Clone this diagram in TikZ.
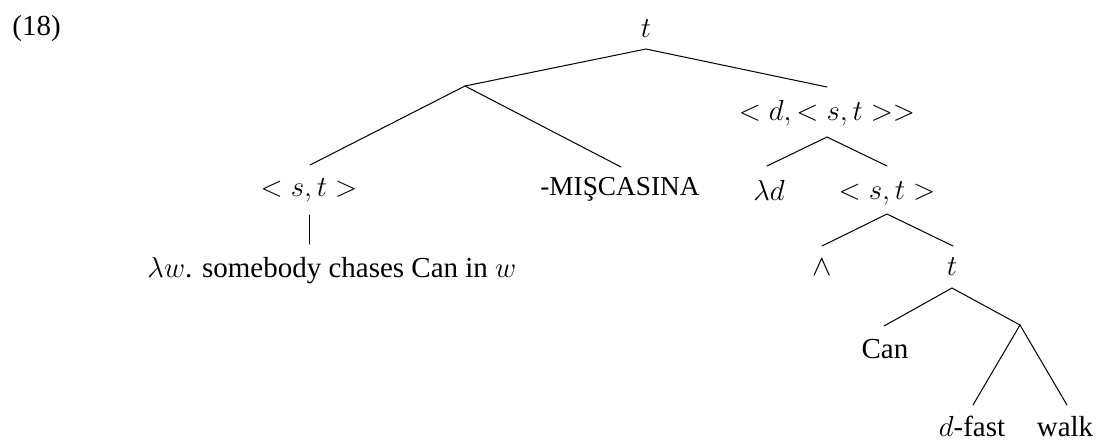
\documentclass[tikz,border=0pt]{standalone}
\usepackage{fontspec}
\setmainfont{Liberation Serif}
\newfontfamily\tnr{Liberation Serif}
\begin{document}
\begin{tikzpicture}[x=0.41379pt,y=-0.41379pt,
  lbl/.style={inner sep=0pt,anchor=base,font=\tnr\fontsize{12}{14}\selectfont},
  br/.style={line width=0.42pt,line cap=round}]
\useasboundingbox (0,0) rectangle (1100,440);
% labels
\node[lbl,anchor=base west] (ex) at (12,35) {(18)};
\node[lbl] (root) at (646,37) {$t$};
\node[lbl] (dst) at (827,120) {$<d,<s,t>>$};
\node[lbl] (st1) at (309,196) {$<s,t>$};
\node[lbl] (mis) at (620,195) {\fontsize{11.3}{13}\selectfont -MIŞCASINA};
\node[lbl] (lamd) at (769,200) {$\lambda d$};
\node[lbl] (st2) at (887,199) {$<s,t>$};
\node[lbl,anchor=base west] (leaf) at (147,277) {$\lambda w$. somebody chases Can in $w$};
\node[lbl] (wedge) at (822,275) {$\wedge$};
\node[lbl] (t2) at (952,275) {$t$};
\node[lbl] (can) at (885,358) {Can};
\node[lbl] (dfast) at (972,436) {$d$-fast};
\node[lbl] (walk) at (1065,436) {walk};
% branch points
\coordinate (a0) at (646,49);
\coordinate (a1) at (465,86);
\coordinate (e1) at (827,87);
\coordinate (e2) at (310,165);
\coordinate (e3) at (621,167);
\coordinate (a2) at (827,137);
\coordinate (e4) at (767,166);
\coordinate (e5) at (887,166);
\coordinate (v1) at (309.5,215);
\coordinate (v2) at (309.5,244);
\coordinate (a3) at (887,214);
\coordinate (e6) at (822,246);
\coordinate (e7) at (953,246);
\coordinate (a4) at (952,288);
\coordinate (e8) at (884,326);
\coordinate (a5) at (1020,325);
\coordinate (e9) at (973,405);
\coordinate (e10) at (1067,405);
% branches
\draw[br] (a1) -- (a0) -- (e1);
\draw[br] (e2) -- (a1) -- (e3);
\draw[br] (e4) -- (a2) -- (e5);
\draw[br] (v1) -- (v2);
\draw[br] (e6) -- (a3) -- (e7);
\draw[br] (e8) -- (a4) -- (a5);
\draw[br] (e9) -- (a5) -- (e10);
\end{tikzpicture}
\end{document}
